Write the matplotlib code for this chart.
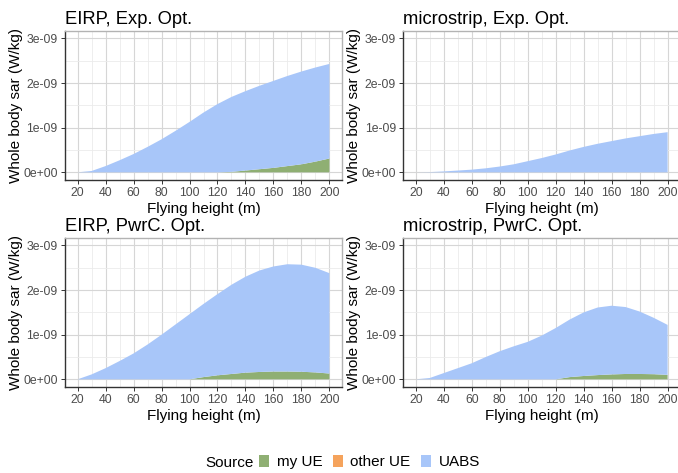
import matplotlib.pyplot as plt
import numpy as np
from matplotlib.patches import Patch

plt.rcParams['font.family'] = ['Liberation Sans', 'DejaVu Sans']

# flying height (m)
height = np.arange(20, 201, 10)

# SAR values in units of 1e-9 W/kg, one set per panel
# EIRP, Exp. Opt.
eirp_exp_my = [0, 0, 0, 0, 0, 0, 0, 0, 0, 0, 0, 0.01, 0.04, 0.07, 0.10, 0.14, 0.18, 0.24, 0.31]
eirp_exp_total = [0, 0.03, 0.14, 0.27, 0.41, 0.57, 0.74, 0.93, 1.13, 1.34, 1.53, 1.69, 1.82,
                  1.94, 2.05, 2.16, 2.26, 2.35, 2.43]
# microstrip, Exp. Opt.
micro_exp_my = [0] * 19
micro_exp_total = [0, 0.005, 0.02, 0.04, 0.06, 0.09, 0.13, 0.18, 0.25, 0.32, 0.40, 0.49, 0.57,
                   0.64, 0.70, 0.76, 0.81, 0.86, 0.90]
# EIRP, PwrC. Opt.
eirp_pwr_my = [0, 0, 0, 0, 0, 0, 0, 0, 0, 0.05, 0.09, 0.12, 0.15, 0.165, 0.175, 0.175, 0.17,
               0.155, 0.13]
eirp_pwr_total = [0, 0.11, 0.25, 0.41, 0.58, 0.78, 1.0, 1.23, 1.46, 1.69, 1.91, 2.12, 2.30,
                  2.44, 2.53, 2.58, 2.57, 2.50, 2.38]
# microstrip, PwrC. Opt.
micro_pwr_my = [0, 0, 0, 0, 0, 0, 0, 0, 0, 0, 0, 0.05, 0.075, 0.095, 0.11, 0.12, 0.12, 0.115, 0.10]
micro_pwr_total = [0, 0.03, 0.14, 0.25, 0.36, 0.50, 0.63, 0.74, 0.84, 0.98, 1.15, 1.34, 1.50,
                   1.61, 1.65, 1.62, 1.52, 1.38, 1.22]

titles = ['EIRP, Exp. Opt.', 'microstrip, Exp. Opt.', 'EIRP, PwrC. Opt.', 'microstrip, PwrC. Opt.']
my_ue = [eirp_exp_my, micro_exp_my, eirp_pwr_my, micro_pwr_my]
totals = [eirp_exp_total, micro_exp_total, eirp_pwr_total, micro_pwr_total]

sources = ['my UE', 'other UE', 'UABS']
colors = ['#8FAF73', '#F5A35C', '#A8C6F9']
scale = 1e-9
yticks = [0, 1e-9, 2e-9, 3e-9]
ytick_labels = ['0e+00', '1e-09', '2e-09', '3e-09']

W, H = 678, 473
fig = plt.figure(figsize=(W / 100, H / 100), dpi=100)

# panel frames in pixels: left, top
frames = [(65, 31), (403.2, 31), (65, 238), (403.2, 238)]
pw, ph = 277, 149

for i, (left, top) in enumerate(frames):
    ax = fig.add_axes([left / W, 1 - (top + ph) / H, pw / W, ph / H])
    my = np.array(my_ue[i]) * scale
    other = np.zeros(len(height))
    uabs = np.array(totals[i]) * scale - my
    ax.stackplot(height, my, other, uabs, colors=colors, linewidth=0)

    ax.set_xlim(11, 209)
    ax.set_ylim(-0.172e-9, 3.168e-9)
    ax.set_xticks(np.arange(20, 201, 20))
    ax.set_xticks(np.arange(30, 201, 20), minor=True)
    ax.set_yticks(yticks)
    ax.set_yticklabels(ytick_labels)
    ax.set_yticks([0.5e-9, 1.5e-9, 2.5e-9], minor=True)
    ax.grid(which='major', color='#D6D6D6', linewidth=0.8)
    ax.grid(which='minor', color='#EBEBEB', linewidth=0.6)
    ax.set_axisbelow(True)

    ax.tick_params(which='major', length=3, width=0.7, color='#333333', labelsize=8.8,
                   labelcolor='#4D4D4D', pad=2.2)
    ax.tick_params(which='minor', length=0)
    for s in ['top', 'right']:
        ax.spines[s].set_color('#B3B3B3')
        ax.spines[s].set_linewidth(1.0)
    for s in ['left', 'bottom']:
        ax.spines[s].set_color('#333333')
        ax.spines[s].set_linewidth(1.0)

    ax.set_title(titles[i], loc='left', fontsize=13.2, pad=5)
    ax.set_xlabel('Flying height (m)', fontsize=11, labelpad=2)
    ax.set_ylabel('Whole body sar (W/kg)', fontsize=11, labelpad=0.5)

fig.text(205 / W, 1 - 463 / H, 'Source', fontsize=11, va='center', ha='left')
handles = [Patch(facecolor=c, edgecolor='none', label=s) for c, s in zip(colors, sources)]
fig.legend(handles=handles, loc='center left', bbox_to_anchor=(259 / W, 1 - 462 / H), ncol=3,
           frameon=False, fontsize=11, handlelength=0.65, handleheight=0.8,
           handletextpad=0.5, columnspacing=0.7, borderpad=0, borderaxespad=0)

fig.savefig('out.png', dpi=100)
